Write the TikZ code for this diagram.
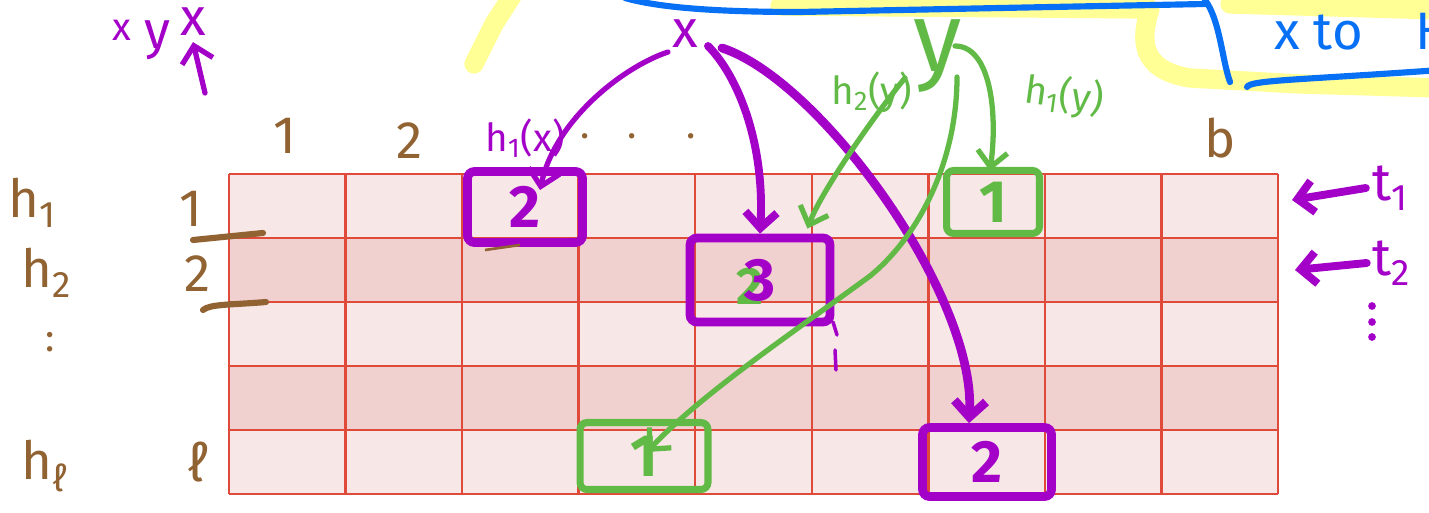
\documentclass[tikz,border=0pt]{standalone}
\usepackage{fontspec}
\setmainfont{Fira Sans}
\usepackage{tikz}
\usetikzlibrary{calc,positioning,arrows.meta}
\definecolor{skpurple}{RGB}{163,0,200}
\definecolor{skgreen}{RGB}{98,186,70}
\definecolor{skbrown}{RGB}{145,98,50}
\definecolor{skblue}{RGB}{8,112,245}
\definecolor{skyellow}{RGB}{255,255,150}
\definecolor{gridred}{RGB}{224,74,58}
\definecolor{cellA}{RGB}{248,231,231}
\definecolor{cellB}{RGB}{241,208,208}
\tikzset{
  gridline/.style={draw=gridred,line width=1.4pt},
  bigfont/.style={font=\fontsize{30}{30}\selectfont},
  hashfont/.style={font=\fontsize{22}{22}\selectfont},
  brownlbl/.style={bigfont,text=skbrown},
  purplbl/.style={bigfont,text=skpurple},
  greenlbl/.style={bigfont,text=skgreen},
  pbox/.style={draw=skpurple,line width=5pt,rounded corners=4pt,text=skpurple,
    inner sep=0pt,font=\fontsize{34}{34}\selectfont\bfseries},
  gbox/.style={draw=skgreen,line width=4pt,rounded corners=4pt,text=skgreen,
    inner sep=0pt,font=\fontsize{34}{34}\selectfont\bfseries},
  parrow/.style={draw=skpurple,line width=4.5pt,line cap=round,
    -{Straight Barb[length=9pt,width=18pt]}},
  garrow/.style={draw=skgreen,line width=3pt,line cap=round,
    -{Straight Barb[length=9pt,width=17pt]}},
  hilite/.style={draw=skyellow,line width=11pt,line cap=round,line join=round},
  bluepen/.style={draw=skblue,line width=3.5pt,line cap=round},
  brownpen/.style={draw=skbrown,line width=3.5pt,line cap=round},
}
\newcommand{\cmsgrid}[2]{%
  \foreach \r in {1,...,#2}{%
    \ifodd\r\def\rowcol{cellA}\else\def\rowcol{cellB}\fi
    \path[fill=\rowcol] (229,{174+(\r-1)*64}) rectangle (1278,{174+\r*64});}%
  \foreach \c in {0,...,#1}{%
    \draw[gridline] ({229+\c*1049/#1},174) -- ({229+\c*1049/#1},{174+#2*64});}%
  \foreach \r in {0,...,#2}{%
    \draw[gridline] (229,{174+\r*64}) -- (1278,{174+\r*64});}%
}

\begin{document}
\begin{tikzpicture}[x=0.02cm,y=-0.02cm]
  \clip (0,0) rectangle (1429,513);
  \draw[hilite] (474,64) -- (494,24) -- (512,-4);
  \draw[hilite] (780,6) -- (1150,9) .. controls (1140,40) and (1140,70) .. (1190,78) -- (1300,84) -- (1440,88);
  \draw[hilite] (1230,4) -- (1440,10);
  \draw[bluepen] (625,-2) .. controls (660,8) and (720,12) .. (800,12) -- (1000,8) -- (1205,4);
  \draw[bluepen] (1205,0) .. controls (1220,20) and (1222,60) .. (1230,82);
  \draw[bluepen] (1247,87) .. controls (1250,80) and (1300,80) .. (1440,70);
  \node[bigfont,text=skblue,anchor=west] (note) at (1268,32) {x to\quad H};

  \cmsgrid{9}{5}

  \node[hashfont,text=skpurple] (s1) at (122,30) {x};
  \node[purplbl] (s2) at (157,40) {y};
  \node[purplbl] (s3) at (193,22) {x};
  \coordinate (sarr) at (205,93);
  \draw[parrow,line width=3pt] (sarr) -- (s3.south);

  \node[brownlbl] (c1) at (285,136) {1};
  \node[brownlbl] (c2) at (410,141) {2};
  \node[hashfont,text=skbrown] (cdots) at (638,136) {.\hspace{0.75cm}.\hspace{1cm}.};
  \node[brownlbl] (cb) at (1220,138) {b};

  \node[brownlbl] (h1) at (32,203) {h\textsubscript{1}};
  \node[brownlbl] (h2) at (47,273) {h\textsubscript{2}};
  \node[hashfont,text=skbrown] (hdots) at (50,342) {:};
  \node[brownlbl] (hl) at (45,466) {h\textsubscript{ℓ}};
  \node[brownlbl] (r1) at (191,209) {1};
  \node[brownlbl] (r2) at (198,274) {2};
  \node[brownlbl] (rl) at (198,462) {ℓ};
  \draw[brownpen] (193,240) -- (263,233);
  \draw[brownpen] (203,310) .. controls (210,304) and (230,305) .. (266,302);

  \node[purplbl] (t1) at (1390,188) {t\textsubscript{1}};
  \node[purplbl] (t2) at (1392,263) {t\textsubscript{2}};
  \coordinate (t1tip) at (1292,200);
  \coordinate (t2tip) at (1295,270);
  \draw[parrow] (t1.west) -- (t1tip);
  \draw[parrow] (t2.west) -- (t2tip);
  \foreach \d in {306,322,337}
    \fill[skpurple] (1372,\d) circle (2.2pt);

  \node[font=\fontsize{30}{30}\selectfont,text=skpurple] (x) at (685,34) {x};
  \node[font=\fontsize{56}{56}\selectfont,text=skgreen] (y) at (938,56) {y};
  \node[hashfont,text=skpurple] (hx) at (525,138) {h\textsubscript{1}(x)};
  \node[hashfont,text=skgreen] (hy2) at (872,92) {h\textsubscript{2}(y)};
  \node[hashfont,text=skgreen,rotate=-8] (hy1) at (1064,96) {h\textsubscript{1}(y)};

  \node[font=\fontsize{30}{30}\selectfont\bfseries,text=skgreen] (old) at (750,286) {2};
  \node[pbox,minimum width=2.3cm,minimum height=1.42cm] (bxa) at (525,207) {2};
  \node[pbox,minimum width=2.8cm,minimum height=1.68cm] (bxb) at (760,280) {3};
  \node[pbox,minimum width=2.58cm,minimum height=1.38cm] (bxc) at (987,462) {2};
  \node[gbox,minimum width=2.56cm,minimum height=1.34cm] (bxd) at (644,456) {1};
  \node[gbox,minimum width=1.86cm,minimum height=1.26cm] (bxe) at (993,202) {1};
  \draw[skbrown,line width=1.5pt] (485,250) -- (520,245);
  \draw[skpurple,line width=2pt,line cap=round] (833,322) -- (837,335);
  \draw[skpurple,line width=2pt,line cap=round] (835,350) -- (836,370);

  \draw[parrow,line width=3pt] ($(x.center)+(-17,18)$) .. controls +(-45,15) and +(15,-70) .. ($(bxa.center)+(15,-17)$);
  \draw[parrow] ($(x.center)+(23,12)$) .. controls +(30,30) and +(5,-90) .. (bxb.north);
  \draw[parrow,line width=5pt] ($(x.center)+(37,14)$) .. controls +(98,32) and +(7,-128) .. ($(bxc.north)+(-18,0)$);

  \draw[garrow] ($(y.center)+(-33,22)$) .. controls +(-25,30) and +(15,-40) .. ($(bxb.north east)+(-27,-5)$);
  \draw[garrow] ($(y.center)+(17,-10)$) .. controls +(35,0) and +(8,-60) .. ($(bxe.north)+(-3,4)$);
  \draw[garrow,-] ($(y.center)+(19,21)$) .. controls (957,160) and (920,235) .. (870,276) coordinate (mid);
  \draw[garrow] (mid) .. controls +(-75,55) and +(53,-57) .. ($(bxd.center)+(3,-4)$);
\end{tikzpicture}
\end{document}
